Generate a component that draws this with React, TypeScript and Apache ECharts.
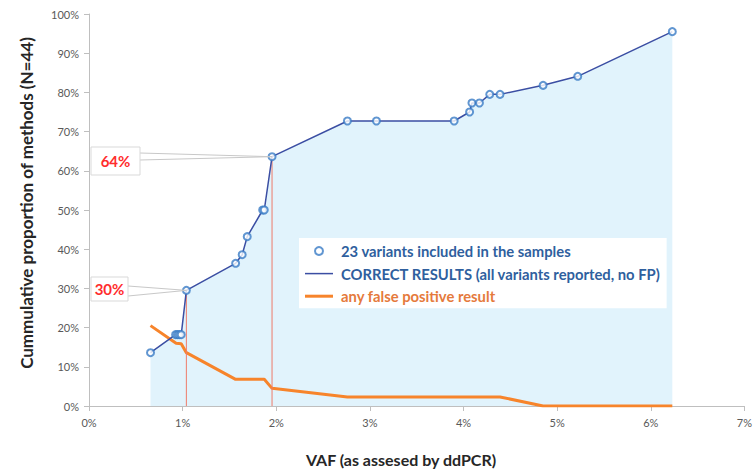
import React, { useEffect, useRef } from "react";
import * as echarts from "echarts";

// Variant VAF (%) and cumulative proportion of methods with correct results (%)
const variantVaf = [0.657, 0.925, 0.945, 0.965, 0.985, 1.04, 1.566, 1.636, 1.69, 1.855, 1.872, 1.955, 2.76, 3.07, 3.9, 4.065, 4.09, 4.17, 4.28, 4.39, 4.85, 5.22, 6.23];
const correctPct = [13.6, 18.2, 18.2, 18.2, 18.2, 29.5, 36.4, 38.6, 43.2, 50.0, 50.0, 63.6, 72.7, 72.7, 72.7, 75.0, 77.3, 77.3, 79.5, 79.5, 81.8, 84.1, 95.5];

// Any false positive result
const fpVaf = [0.657, 0.93, 0.985, 1.04, 1.566, 1.636, 1.69, 1.872, 1.955, 2.76, 3.07, 3.9, 4.39, 4.85, 5.22, 6.23];
const fpPct = [20.5, 16.0, 15.9, 13.6, 6.8, 6.8, 6.8, 6.8, 4.5, 2.3, 2.3, 2.3, 2.3, 0, 0, 0];

// Highlighted thresholds
const markVaf = [1.04, 1.955];
const markPct = [29.5, 63.6];
const markLabels = ["30%", "64%"];

const xTicks = { min: 0, max: 7, interval: 1 };
const yTicks = { min: 0, max: 100, interval: 10 };

const FONT = "Lato, 'Open Sans', sans-serif";

export default function App() {
  const ref = useRef<HTMLDivElement>(null);
  useEffect(() => {
    document.body.style.margin = "0";
    const chart = echarts.init(ref.current!, null, { renderer: "svg" });
    const blueData = variantVaf.map((v, i) => [v, correctPct[i]]);
    const fpData = fpVaf.map((v, i) => [v, fpPct[i]]);
    const markSeries = markVaf.map((v, i) => ({
      type: "line",
      name: "mark" + i,
      data: [[v, 0], [v, markPct[i]]],
      symbol: "none",
      lineStyle: { color: "#ee7b6a", width: 1 },
      z: 3,
      silent: true,
    }));
    const option: any = {
      animation: false,
      textStyle: { fontFamily: FONT },
      grid: { left: 89, right: 6, top: 14, bottom: 64 },
      xAxis: {
        type: "value",
        min: xTicks.min,
        max: xTicks.max,
        interval: xTicks.interval,
        axisLine: { show: true, onZero: false, lineStyle: { color: "#bfbfbf", width: 1 } },
        axisTick: { show: true, length: 5, lineStyle: { color: "#bfbfbf" } },
        splitLine: { show: false },
        axisLabel: { formatter: "{value}%", color: "#595959", fontSize: 11, margin: 11, fontFamily: FONT },
      },
      yAxis: {
        type: "value",
        min: yTicks.min,
        max: yTicks.max,
        interval: yTicks.interval,
        axisLine: { show: true, lineStyle: { color: "#bfbfbf", width: 1 } },
        axisTick: { show: true, length: 5, lineStyle: { color: "#bfbfbf" } },
        splitLine: { show: false },
        axisLabel: { formatter: "{value}%", color: "#595959", fontSize: 11, margin: 10, fontFamily: FONT },
      },
      legend: {
        orient: "vertical",
        left: 299,
        top: 238,
        z: 20,
        backgroundColor: "#ffffff",
        padding: [5, 6, 4, 6],
        itemWidth: 28,
        itemHeight: 8,
        itemGap: 6.6,
        selectedMode: false,
        textStyle: { fontFamily: FONT, fontSize: 14.8, lineHeight: 16, fontWeight: "bold", padding: [0, 0, 0, 3] },
        data: [
          { name: "23 variants included in the samples", textStyle: { color: "#2f5f9e" } },
          {
            name: "CORRECT RESULTS (all variants reported, no FP)",
            icon: "path://M0,0 L28,0 L28,1.5 L0,1.5 Z",
            textStyle: { color: "#2f5f9e" },
          },
          {
            name: "any false positive result",
            icon: "path://M0,0 L28,0 L28,3 L0,3 Z",
            textStyle: { color: "#e57a3c" },
          },
        ],
      },
      series: [
        {
          type: "line",
          name: "area",
          data: blueData,
          symbol: "none",
          lineStyle: { width: 0 },
          areaStyle: { color: "#e1f3fc", opacity: 1 },
          z: 1,
          silent: true,
        },
        {
          type: "line",
          name: "any false positive result",
          data: fpData,
          symbol: "none",
          lineStyle: { color: "#f7842b", width: 3 },
          itemStyle: { color: "#f7842b" },
          z: 3,
        },
        ...markSeries,
        {
          type: "line",
          name: "CORRECT RESULTS (all variants reported, no FP)",
          data: blueData,
          symbol: "none",
          lineStyle: { color: "#3b4ea3", width: 1.5 },
          itemStyle: { color: "#3b4ea3" },
          z: 4,
        },
        {
          type: "scatter",
          name: "23 variants included in the samples",
          data: blueData,
          symbol: "emptyCircle",
          symbolSize: 7,
          itemStyle: { color: "#3a7cc6", borderColor: "#3a7cc6", borderWidth: 2 },
          z: 5,
        },
      ],
    };
    chart.setOption(option);

    const boxes = [
      { x: 91, y: 277, w: 37, h: 24, ly1: 286, ly2: 296 },
      { x: 91, y: 147, w: 49, h: 28, ly1: 153, ly2: 160 },
    ];
    const graphics: any[] = [];
    markVaf.forEach((v, i) => {
      const p = chart.convertToPixel({ gridIndex: 0 }, [v, markPct[i]]) as number[];
      const b = boxes[i];
      graphics.push(
        {
          type: "line",
          shape: { x1: b.x + b.w, y1: b.ly1, x2: p[0], y2: p[1] },
          style: { stroke: "#c8c8c8", lineWidth: 1 },
          z: 10,
        },
        {
          type: "line",
          shape: { x1: b.x + b.w, y1: b.ly2, x2: p[0], y2: p[1] },
          style: { stroke: "#c8c8c8", lineWidth: 1 },
          z: 10,
        },
        {
          type: "rect",
          shape: { x: b.x, y: b.y, width: b.w, height: b.h },
          style: { fill: "#ffffff", stroke: "#d9d9d9", lineWidth: 1 },
          z: 11,
        },
        {
          type: "text",
          x: b.x + b.w / 2,
          y: b.y + b.h / 2,
          style: {
            text: markLabels[i],
            fill: "#ff2d2d",
            font: `bold 15px ${FONT}`,
            align: "center",
            verticalAlign: "middle",
          },
          z: 12,
        }
      );
    });
    graphics.push(
      {
        type: "text",
        x: 26,
        y: 203,
        rotation: Math.PI / 2,
        style: {
          text: "Cummulative proportion of methods (N=44)",
          fill: "#262626",
          font: `bold 17px ${FONT}`,
          align: "center",
          verticalAlign: "middle",
        },
      },
      {
        type: "text",
        x: 401,
        y: 459,
        style: {
          text: "VAF (as assesed by ddPCR)",
          fill: "#262626",
          font: `bold 16px ${FONT}`,
          align: "center",
          verticalAlign: "middle",
        },
      }
    );
    chart.setOption({ graphic: graphics });
    return () => chart.dispose();
  }, []);
  return <div ref={ref} style={{ width: 755, height: 470 }} />;
}
